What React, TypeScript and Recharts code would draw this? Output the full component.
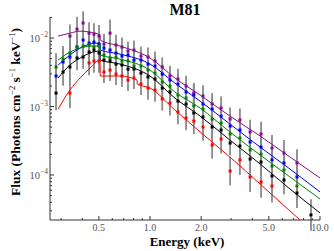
import React from 'react';
import { ComposedChart, Line, Scatter, XAxis, YAxis, ErrorBar } from 'recharts';

// ---- data bins (keV) ----
const energyBins = [0.280, 0.308, 0.338, 0.372, 0.404, 0.438, 0.468, 0.501, 0.536, 0.582, 0.631, 0.684, 0.742, 0.805, 0.885, 0.973, 1.07, 1.18, 1.31, 1.46, 1.63, 1.81, 2.05, 2.32, 2.62, 2.96, 3.38, 3.88, 4.50, 5.22, 6.14, 7.32, 8.85];

// observed fluxes (photons cm^-2 s^-1 keV^-1), null = no bin
const purpleFlux = [null, null, 1.07e-2, 1.35e-2, 1.66e-2, 1.18e-2, 1.14e-2, 1.07e-2, 8.17e-3, 1.18e-2, 7.91e-3, 7.39e-3, 6.46e-3, 6.68e-3, 5.46e-3, 5.28e-3, 4.62e-3, 3.78e-3, 2.79e-3, 2.52e-3, 1.99e-3, 1.57e-3, 1.42e-3, 1.09e-3, 9.51e-4, 6.56e-4, 6.35e-4, 4.25e-4, 3.97e-4, 2.48e-4, 2.09e-4, 1.50e-4, null];
const blueFlux = [2.79e-3, 4.47e-3, 5.28e-3, 7.39e-3, 9.35e-3, 8.45e-3, 8.74e-3, 8.17e-3, 7.14e-3, 6.68e-3, 6.04e-3, 5.46e-3, 5.65e-3, 4.77e-3, 4.77e-3, 4.17e-3, 3.90e-3, 2.98e-3, 2.44e-3, 2.13e-3, 1.63e-3, 1.47e-3, 1.09e-3, 9.19e-4, 7.26e-4, 5.19e-4, 4.54e-4, 3.03e-4, 2.56e-4, 1.66e-4, 1.50e-4, 9.35e-5, null];
const greenFlux = [3.78e-3, 4.93e-3, 6.04e-3, 7.39e-3, 7.64e-3, 7.91e-3, 7.39e-3, 7.64e-3, 5.65e-3, 5.11e-3, 5.28e-3, 4.62e-3, 4.62e-3, 3.90e-3, 3.90e-3, 3.41e-3, 3.08e-3, 2.28e-3, 1.99e-3, 1.47e-3, 1.33e-3, 1.02e-3, 9.19e-4, 6.56e-4, 5.74e-4, 3.97e-4, 3.47e-4, 2.32e-4, 2.02e-4, 1.35e-4, 1.18e-4, 6.90e-5, null];
const blackFlux = [1.57e-3, 3.19e-3, 3.78e-3, 5.11e-3, 5.28e-3, 6.25e-3, 6.68e-3, 6.04e-3, 4.77e-3, 4.62e-3, 4.17e-3, 4.04e-3, 3.52e-3, 3.52e-3, 3.08e-3, 2.70e-3, 2.52e-3, 1.86e-3, 1.63e-3, 1.20e-3, 1.09e-3, 8.04e-4, 7.03e-4, 5.02e-4, 4.54e-4, 2.93e-4, 2.65e-4, 1.71e-4, 1.55e-4, 9.66e-5, 8.45e-5, 5.46e-5, 2.61e-5];
const redFlux = [null, null, 1.57e-3, null, null, 4.32e-3, 4.62e-3, 4.62e-3, 3.19e-3, 3.41e-3, 2.98e-3, 2.79e-3, 2.44e-3, 2.61e-3, 2.13e-3, 1.86e-3, 1.74e-3, 1.29e-3, 1.12e-3, 8.32e-4, 6.79e-4, 6.14e-4, 5.02e-4, 2.74e-4, 3.35e-4, 1.14e-4, 1.66e-4, 9.35e-5, 7.91e-5, 6.90e-5, null, null, null];

// 1-sigma errors, in dex
const purpleErr = [null, null, 0.17, 0.18, 0.17, 0.16, 0.16, 0.16, 0.15, 0.2, 0.15, 0.14, 0.14, 0.14, 0.14, 0.14, 0.14, 0.14, 0.15, 0.15, 0.15, 0.15, 0.16, 0.16, 0.17, 0.17, 0.17, 0.18, 0.18, 0.19, 0.19, 0.2, null];
const blueErr = [0.2, 0.19, 0.18, 0.17, 0.16, 0.16, 0.16, 0.15, 0.15, 0.14, 0.14, 0.14, 0.14, 0.14, 0.14, 0.14, 0.14, 0.15, 0.15, 0.15, 0.15, 0.16, 0.16, 0.17, 0.17, 0.17, 0.18, 0.18, 0.19, 0.19, 0.2, 0.2, null];
const greenErr = [0.2, 0.19, 0.18, 0.17, 0.16, 0.16, 0.16, 0.15, 0.15, 0.14, 0.14, 0.14, 0.14, 0.14, 0.14, 0.14, 0.14, 0.15, 0.15, 0.15, 0.15, 0.16, 0.16, 0.17, 0.17, 0.17, 0.18, 0.18, 0.19, 0.19, 0.2, 0.2, null];
const blackErr = [0.25, 0.2, 0.19, 0.18, 0.17, 0.16, 0.16, 0.16, 0.15, 0.15, 0.15, 0.15, 0.15, 0.15, 0.15, 0.15, 0.15, 0.16, 0.16, 0.16, 0.16, 0.17, 0.17, 0.18, 0.18, 0.18, 0.19, 0.19, 0.2, 0.2, 0.21, 0.22, 0.23];
const redErr = [null, null, 0.22, null, null, 0.18, 0.17, 0.17, 0.16, 0.16, 0.16, 0.16, 0.16, 0.16, 0.16, 0.17, 0.17, 0.17, 0.18, 0.18, 0.18, 0.19, 0.2, 0.2, 0.21, 0.21, 0.22, 0.22, 0.23, 0.24, null, null, null];

// model curves
const modelEnergy = [0.288, 0.338, 0.388, 0.444, 0.508, 0.510, 0.666, 1.0, 1.40, 1.97, 2.95, 4.44, 6.66, 10];
const purpleModel = [1.07e-2, 1.18e-2, 1.26e-2, 1.22e-2, 1.11e-2, 9.35e-3, 7.64e-3, 5.11e-3, 2.61e-3, 1.47e-3, 7.26e-4, 3.71e-4, 1.83e-4, 9.04e-5];
const blueModel = [4.04e-3, 5.65e-3, 7.14e-3, 8.17e-3, 8.45e-3, 6.68e-3, 5.83e-3, 4.17e-3, 2.20e-3, 1.20e-3, 5.55e-4, 2.56e-4, 1.22e-4, 5.65e-5];
const greenModel = [4.77e-3, 6.25e-3, 7.14e-3, 7.64e-3, 7.64e-3, 5.65e-3, 4.93e-3, 3.41e-3, 1.63e-3, 9.51e-4, 4.25e-4, 1.96e-4, 9.35e-5, 4.46e-5];
const blackModel = [2.61e-3, 4.04e-3, 5.11e-3, 6.04e-3, 6.46e-3, 4.77e-3, 4.17e-3, 2.79e-3, 1.33e-3, 7.26e-4, 3.24e-4, 1.45e-4, 6.24e-5, 2.79e-5];
const redModelEnergy = [0.288, 0.338, 0.388, 0.444, 0.508, 0.510, 0.666, 0.839, 0.841, 1.0, 1.40, 1.97, 2.95, 4.44, 6.66, 10];
const redModel = [9.19e-4, 1.74e-3, 2.61e-3, 3.65e-3, 4.77e-3, 2.79e-3, 2.79e-3, 2.44e-3, 2.13e-3, 1.86e-3, 8.89e-4, 4.25e-4, 1.83e-4, 7.38e-5, 2.98e-5, 1.20e-5];

// axis ticks
const xMajor = [0.5, 1, 2, 5, 10];
const xMajorLabels = ['0.5', '1.0', '2.0', '5.0', '10.0'];
const xMinor = [0.3, 0.4, 0.6, 0.7, 0.8, 0.9, 3, 4, 6, 7, 8, 9];
const yMajor = [1e-4, 1e-3, 1e-2];
const yMajorExp = ['−4', '−3', '−2'];
const yMinor = [3e-5, 4e-5, 5e-5, 6e-5, 7e-5, 8e-5, 9e-5, 2e-4, 3e-4, 4e-4, 5e-4, 6e-4, 7e-4, 8e-4, 9e-4, 2e-3, 3e-3, 4e-3, 5e-3, 6e-3, 7e-3, 8e-3, 9e-3, 2e-2];

const X_DOMAIN = [0.258, 10];
const Y_DOMAIN = [2.2e-5, 2.03e-2];

const COLORS = { purple: '#8a0a8a', blue: '#0000ff', green: '#008000', black: '#000000', red: '#ff0000' };

const SERIF = '"Liberation Serif", "DejaVu Serif", serif';
const AXIS = '#333';

function buildPoints(flux: (number | null)[], err: (number | null)[]) {
  const out: { E: number; F: number; err: [number, number] }[] = [];
  flux.forEach((f, i) => {
    if (f == null) return;
    const e = (err[i] ?? 0.15) as number;
    const lo = f - f / Math.pow(10, e);
    const hi = f * Math.pow(10, e) - f;
    out.push({ E: energyBins[i], F: f, err: [lo, hi] });
  });
  return out;
}

function buildModel(en: number[], f: number[]) {
  return en.map((e, i) => ({ E: e, F: f[i] }));
}

const series = [
  { key: 'purple', color: COLORS.purple, pts: buildPoints(purpleFlux, purpleErr), model: buildModel(modelEnergy, purpleModel) },
  { key: 'blue', color: COLORS.blue, pts: buildPoints(blueFlux, blueErr), model: buildModel(modelEnergy, blueModel) },
  { key: 'green', color: COLORS.green, pts: buildPoints(greenFlux, greenErr), model: buildModel(modelEnergy, greenModel) },
  { key: 'black', color: COLORS.black, pts: buildPoints(blackFlux, blackErr), model: buildModel(modelEnergy, blackModel) },
  { key: 'red', color: COLORS.red, pts: buildPoints(redFlux, redErr), model: buildModel(redModelEnergy, redModel) },
];

const xTicks = [...xMinor, ...xMajor].sort((a, b) => a - b);
const yTicks = [...yMinor, ...yMajor].sort((a, b) => a - b);

const BottomTick = (props: any) => {
  const { x, y, payload } = props;
  const idx = xMajor.indexOf(payload.value);
  const len = idx >= 0 ? 4 : 2;
  return (
    <g>
      <line x1={x} x2={x} y1={y} y2={y - len} stroke={AXIS} strokeWidth={1} />
      {idx >= 0 && (
        <text x={x} y={y + 11} textAnchor="middle" fontSize={10} fill="#555" fontFamily={SERIF}>
          {xMajorLabels[idx]}
        </text>
      )}
    </g>
  );
};

const TopTick = (props: any) => {
  const { x, y, payload } = props;
  const len = xMajor.indexOf(payload.value) >= 0 ? 4 : 2;
  return <line x1={x} x2={x} y1={y} y2={y + len} stroke={AXIS} strokeWidth={1} />;
};

const LeftTick = (props: any) => {
  const { x, y, payload } = props;
  const idx = yMajor.indexOf(payload.value);
  const len = idx >= 0 ? 4 : 2;
  return (
    <g>
      <line x1={x} x2={x + len} y1={y} y2={y} stroke={AXIS} strokeWidth={1} />
      {idx >= 0 && (
        <text x={x - 2} y={y + 4} textAnchor="end" fontSize={10.5} fill="#555" fontFamily={SERIF}>
          10<tspan dy={-5} fontSize={7.5}>{yMajorExp[idx]}</tspan>
        </text>
      )}
    </g>
  );
};

const RightTick = (props: any) => {
  const { x, y, payload } = props;
  const len = yMajor.indexOf(payload.value) >= 0 ? 4 : 2;
  return <line x1={x} x2={x - len} y1={y} y2={y} stroke={AXIS} strokeWidth={1} />;
};

const square = (color: string) => (p: any) => (
  <rect x={p.cx - 1.5} y={p.cy - 1.5} width={3} height={3} fill={color} />
);
const nothing = () => <g />;

export default function App() {
  return (
    <div style={{ position: 'absolute', left: 0, top: 0, width: 334, height: 251, background: '#fff' }}>
      <ComposedChart width={334} height={251} margin={{ top: 17, right: 14, bottom: 0, left: 0 }}>
        <XAxis xAxisId="b" dataKey="E" type="number" scale="log" domain={X_DOMAIN} allowDataOverflow
          ticks={xTicks} interval={0} tickSize={0} tickMargin={0} tick={<BottomTick />}
          height={31} axisLine={{ stroke: AXIS, strokeWidth: 1 }} tickLine={false} />
        <XAxis xAxisId="t" orientation="top" dataKey="E" type="number" scale="log" domain={X_DOMAIN} allowDataOverflow
          ticks={xTicks} interval={0} tickSize={0} tickMargin={0} tick={<TopTick />}
          height={0} axisLine={{ stroke: AXIS, strokeWidth: 1 }} tickLine={false} />
        <YAxis yAxisId="l" dataKey="F" type="number" scale="log" domain={Y_DOMAIN} allowDataOverflow
          ticks={yTicks} interval={0} tickSize={0} tickMargin={0} tick={<LeftTick />}
          width={50} axisLine={{ stroke: AXIS, strokeWidth: 1 }} tickLine={false} />
        <YAxis yAxisId="r" orientation="right" dataKey="F" type="number" scale="log" domain={Y_DOMAIN} allowDataOverflow
          ticks={yTicks} interval={0} tickSize={0} tickMargin={0} tick={<RightTick />}
          width={0} axisLine={{ stroke: AXIS, strokeWidth: 1 }} tickLine={false} />

        {series.map((s) => (
          <Scatter key={s.key + '-err'} xAxisId="b" yAxisId="l" data={s.pts} dataKey="F" shape={nothing} isAnimationActive={false}>
            <ErrorBar dataKey="err" direction="y" width={0} stroke="#8a8a8a" strokeWidth={1.8} isAnimationActive={false} />
          </Scatter>
        ))}
        {series.map((s) => (
          <Line key={s.key + '-model'} xAxisId="b" yAxisId="l" data={s.model} dataKey="F" type="monotone"
            stroke={s.color} strokeWidth={1} dot={false} activeDot={false} isAnimationActive={false} />
        ))}
        {series.map((s) => (
          <Scatter key={s.key + '-pts'} xAxisId="b" yAxisId="l" data={s.pts} dataKey="F" shape={square(s.color)} isAnimationActive={false} />
        ))}
      </ComposedChart>
      <svg width={334} height={251} style={{ position: 'absolute', left: 0, top: 0, pointerEvents: 'none' }}>
        <text x={185} y={15} textAnchor="middle" fontSize={16} fontWeight="bold" fontFamily={SERIF} fill="#000">M81</text>
        <text x={187} y={246} textAnchor="middle" fontSize={13} fontWeight="bold" fontFamily={SERIF} fill="#000">Energy (keV)</text>
        <text x={19.5} y={112} transform="rotate(-90 19.5 112)" textAnchor="middle" fontSize={13.5} fontWeight="bold" fontFamily={SERIF} fill="#000">
          Flux (Photons cm<tspan dy={-5} fontSize={8.5} fontWeight="normal">−2</tspan>
          <tspan dy={5}> s</tspan><tspan dy={-5} fontSize={8.5} fontWeight="normal">−1</tspan>
          <tspan dy={5}> keV</tspan><tspan dy={-5} fontSize={8.5} fontWeight="normal">−1</tspan>
          <tspan dy={5}>)</tspan>
        </text>
      </svg>
    </div>
  );
}
